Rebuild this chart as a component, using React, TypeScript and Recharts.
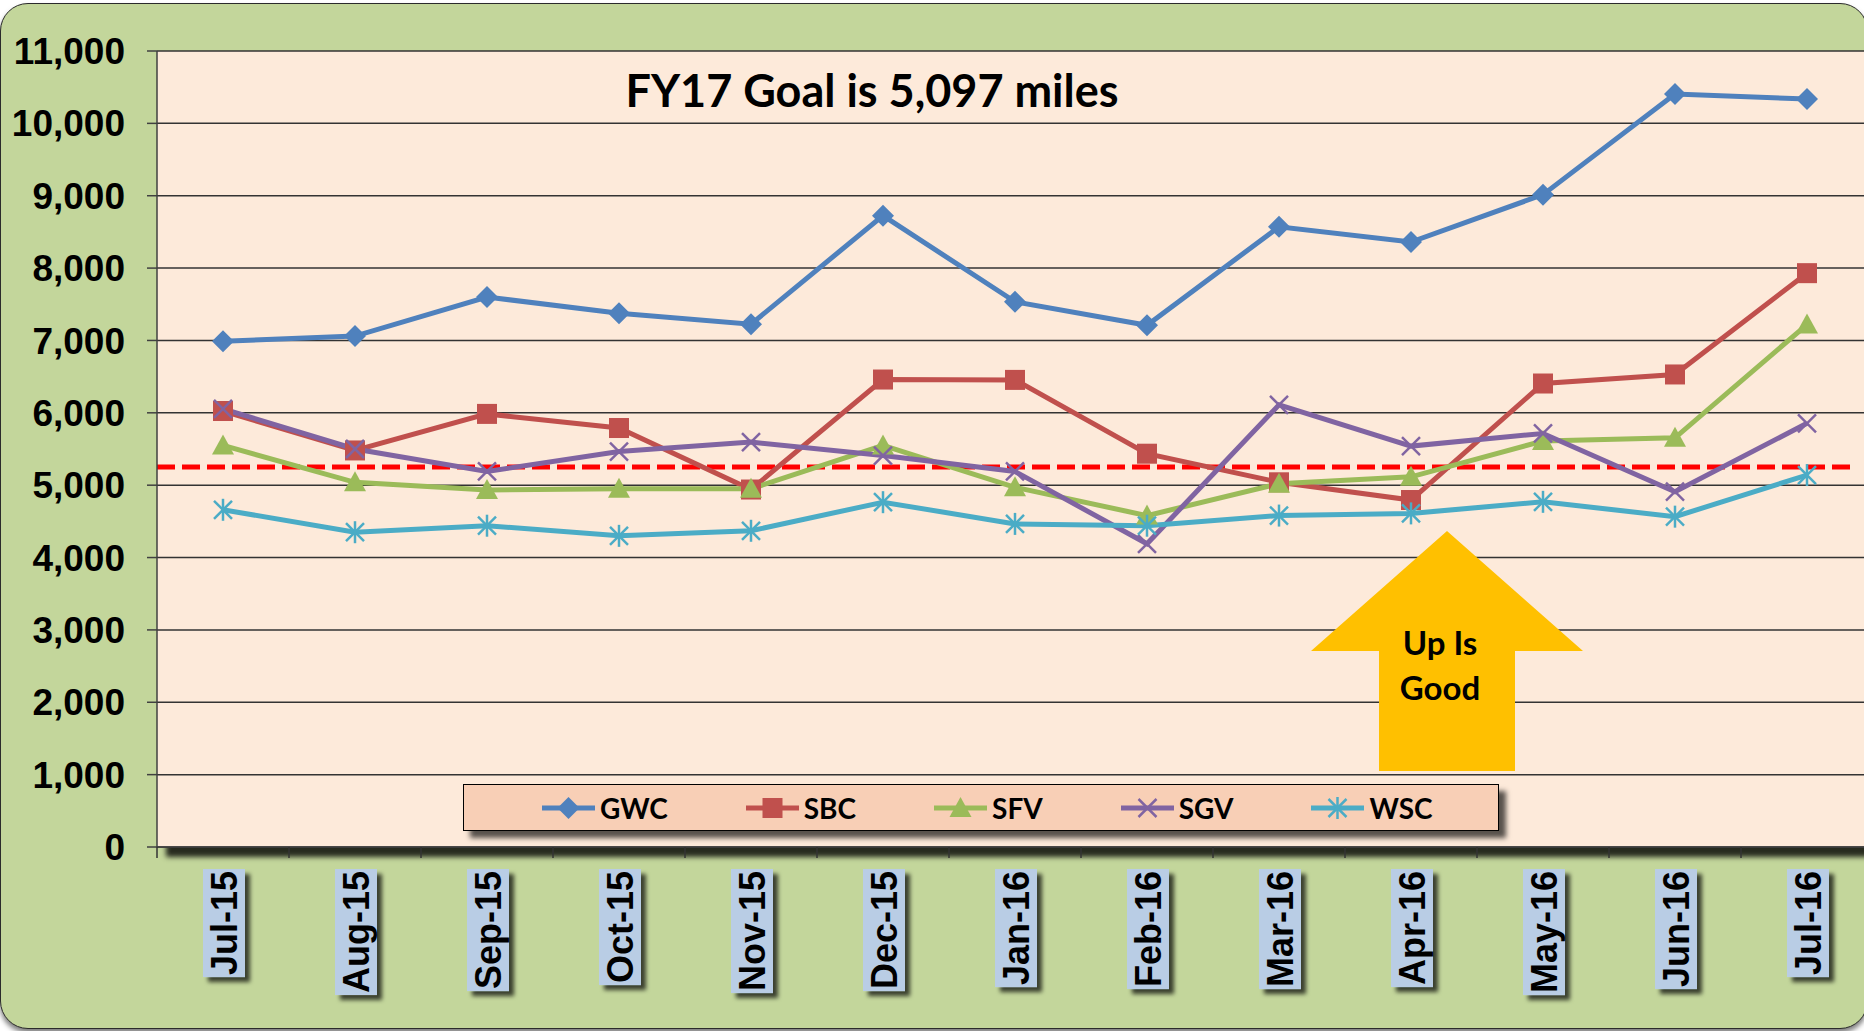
import React from "react";
import { LineChart, Line, XAxis, YAxis, CartesianGrid, ReferenceLine } from "recharts";

const months = ["Jul-15", "Aug-15", "Sep-15", "Oct-15", "Nov-15", "Dec-15", "Jan-16", "Feb-16", "Mar-16", "Apr-16", "May-16", "Jun-16", "Jul-16"];
const gwc = [6990, 7060, 7600, 7375, 7225, 8725, 7535, 7210, 8570, 8360, 9015, 10405, 10335];
const sbc = [6025, 5480, 5985, 5790, 4940, 6460, 6455, 5435, 5040, 4795, 6405, 6530, 7930];
const sfv = [5550, 5040, 4935, 4950, 4950, 5550, 4970, 4580, 5020, 5115, 5610, 5655, 7220];
const sgv = [6055, 5500, 5190, 5465, 5595, 5410, 5190, 4190, 6110, 5540, 5715, 4910, 5855];
const wsc = [4660, 4350, 4440, 4300, 4370, 4765, 4465, 4440, 4580, 4610, 4770, 4565, 5140];
const yTicks = [0, 1000, 2000, 3000, 4000, 5000, 6000, 7000, 8000, 9000, 10000, 11000];
const goalLine = 5250;

const series = [
  { key: "GWC", values: gwc, color: "#4F81BD", marker: "diamond" },
  { key: "SBC", values: sbc, color: "#C0504D", marker: "square" },
  { key: "SFV", values: sfv, color: "#9BBB59", marker: "triangle" },
  { key: "SGV", values: sgv, color: "#8064A2", marker: "x" },
  { key: "WSC", values: wsc, color: "#4BACC6", marker: "star" },
];

const rows = months.map((m, i) => {
  const r: any = { i, month: m };
  series.forEach((s) => (r[s.key] = s.values[i]));
  return r;
});

// ticks at category centres (labels) and boundaries (tick marks), like Excel
const xTicks: number[] = [];
for (let k = -0.5; k <= months.length - 0.5; k += 0.5) xTicks.push(k);

function Marker({ cx, cy, type, color }: { cx: number; cy: number; type: string; color: string }) {
  if (cx == null || cy == null) return null;
  if (type === "diamond")
    return <polygon points={`${cx},${cy - 11} ${cx + 11},${cy} ${cx},${cy + 11} ${cx - 11},${cy}`} fill={color} />;
  if (type === "square") return <rect x={cx - 10} y={cy - 10} width={20} height={20} fill={color} />;
  if (type === "triangle")
    return <polygon points={`${cx},${cy - 11} ${cx + 11},${cy + 9} ${cx - 11},${cy + 9}`} fill={color} />;
  const d = 9;
  return (
    <g stroke={color} strokeWidth={2.5}>
      <line x1={cx - d} y1={cy - d} x2={cx + d} y2={cy + d} />
      <line x1={cx - d} y1={cy + d} x2={cx + d} y2={cy - d} />
      {type === "star" && <line x1={cx} y1={cy - 11} x2={cx} y2={cy + 11} />}
    </g>
  );
}

let ctx: CanvasRenderingContext2D | null = null;
function measure(s: string) {
  if (!ctx) ctx = document.createElement("canvas").getContext("2d");
  if (!ctx) return s.length * 18;
  ctx.font = "bold 36px 'Liberation Sans'";
  return ctx.measureText(s).width;
}

function XTick(props: any) {
  const { x, y, payload } = props;
  const v = payload.value;
  if (!Number.isInteger(v)) return <line x1={x} x2={x} y1={y} y2={y + 11} stroke="#333" strokeWidth={1.5} />;
  const label = months[v];
  const w = measure(label);
  return (
    <g transform={`translate(${x},${y + 24}) rotate(-90)`}>
      <rect x={-w - 2} y={-20} width={w + 4} height={42} fill="#B9CDE5" filter="url(#lblShadow)" />
      <text x={0} y={14} textAnchor="end" fontFamily="'Liberation Sans', Arial" fontWeight={700} fontSize={36} fill="#000">
        {label}
      </text>
    </g>
  );
}

function LegendKey({ type, color }: { type: string; color: string }) {
  return (
    <svg width={53} height={26}>
      <line x1={0} x2={53} y1={13} y2={13} stroke={color} strokeWidth={5} strokeLinecap="round" />
      <Marker cx={26.5} cy={13} type={type} color={color} />
    </svg>
  );
}

export default function App() {
  return (
    <div style={{ position: "fixed", left: 0, top: 0, width: 1864, height: 1031, overflow: "hidden", background: "#fff" }}>
      <svg width={0} height={0} style={{ position: "absolute" }}>
        <defs>
          <filter id="lblShadow" x="-30%" y="-40%" width="160%" height="180%">
            <feDropShadow dx={-5} dy={5} stdDeviation={2} floodColor="#000" floodOpacity={0.7} />
          </filter>
        </defs>
      </svg>
      <div
        style={{
          position: "absolute", left: 0, top: 3, width: 1866, height: 1024, background: "#C3D69B",
          border: "1.5px solid #2b2b2b", borderRadius: 28, boxShadow: "0 4px 5px rgba(0,0,0,0.5)",
        }}
      />
      <div
        style={{
          position: "absolute", left: 157, top: 51, width: 1716, height: 796, background: "#FDEADA",
          boxShadow: "9px 10px 5px rgba(0,0,0,0.8)",
        }}
      />
      <div style={{ position: "absolute", left: 0, top: 0 }}>
        <LineChart width={1880} height={1031} data={rows} margin={{ top: 51, right: 7, bottom: 34, left: 0 }}>
          <CartesianGrid vertical={false} stroke="#333" strokeWidth={1.5} />
          <XAxis
            dataKey="i"
            type="number"
            domain={[-0.5, months.length - 0.5]}
            ticks={xTicks}
            interval={0}
            height={150}
            tickSize={0}
            tickMargin={0}
            tickLine={false}
            axisLine={{ stroke: "#404040", strokeWidth: 1.5 }}
            tick={<XTick />}
          />
          <YAxis
            width={157}
            domain={[0, 11000]}
            ticks={yTicks}
            interval={0}
            tickSize={10}
            tickMargin={22}
            tickLine={{ stroke: "#404040", strokeWidth: 1.5 }}
            axisLine={{ stroke: "#404040", strokeWidth: 1.5 }}
            tick={{ fill: "#000", fontSize: 37, fontWeight: 700, fontFamily: "'Liberation Sans', Arial" }}
            tickFormatter={(v) => Number(v).toLocaleString("en-US")}
          />
          <ReferenceLine
            segment={[{ x: -0.5, y: goalLine }, { x: 12.37, y: goalLine }]}
            stroke="#FF0000"
            strokeWidth={5}
            strokeDasharray="18 7"
          />
          {series.map((s) => (
            <Line
              key={s.key}
              dataKey={s.key}
              stroke={s.color}
              strokeWidth={5}
              isAnimationActive={false}
              activeDot={false}
              dot={(p: any) => <Marker key={`${s.key}-${p.index}`} cx={p.cx} cy={p.cy} type={s.marker} color={s.color} />}
            />
          ))}
        </LineChart>
      </div>
      <svg width={1864} height={1031} style={{ position: "absolute", left: 0, top: 0, pointerEvents: "none" }}>
        <text x={872} y={107} textAnchor="middle" fontFamily="Lato, 'Open Sans'" fontWeight={700} fontSize={45} fill="#000">
          FY17 Goal is 5,097 miles
        </text>
        <polygon
          points="1447,531 1583,651 1515,651 1515,771 1379,771 1379,651 1311,651"
          fill="#FFC000"
        />
        <text x={1440} y={655} textAnchor="middle" fontFamily="Lato" fontWeight={700} fontSize={33} fill="#000">
          Up Is
        </text>
        <text x={1440} y={700} textAnchor="middle" fontFamily="Lato" fontWeight={700} fontSize={33} fill="#000">
          Good
        </text>
      </svg>
      <div
        style={{
          position: "absolute", left: 463, top: 784, width: 1036, height: 47, boxSizing: "border-box",
          background: "#F8CFB6", border: "1.5px solid #000", boxShadow: "7px 7px 5px rgba(0,0,0,0.65)",
          display: "flex", alignItems: "center", paddingLeft: 78, gap: 78,
        }}
      >
        {series.map((s) => (
          <div key={s.key} style={{ display: "flex", alignItems: "center", gap: 5 }}>
            <LegendKey type={s.marker} color={s.color} />
            <span style={{ fontFamily: "Lato", fontWeight: 700, fontSize: 28, lineHeight: "28px", color: "#000" }}>{s.key}</span>
          </div>
        ))}
      </div>
    </div>
  );
}
